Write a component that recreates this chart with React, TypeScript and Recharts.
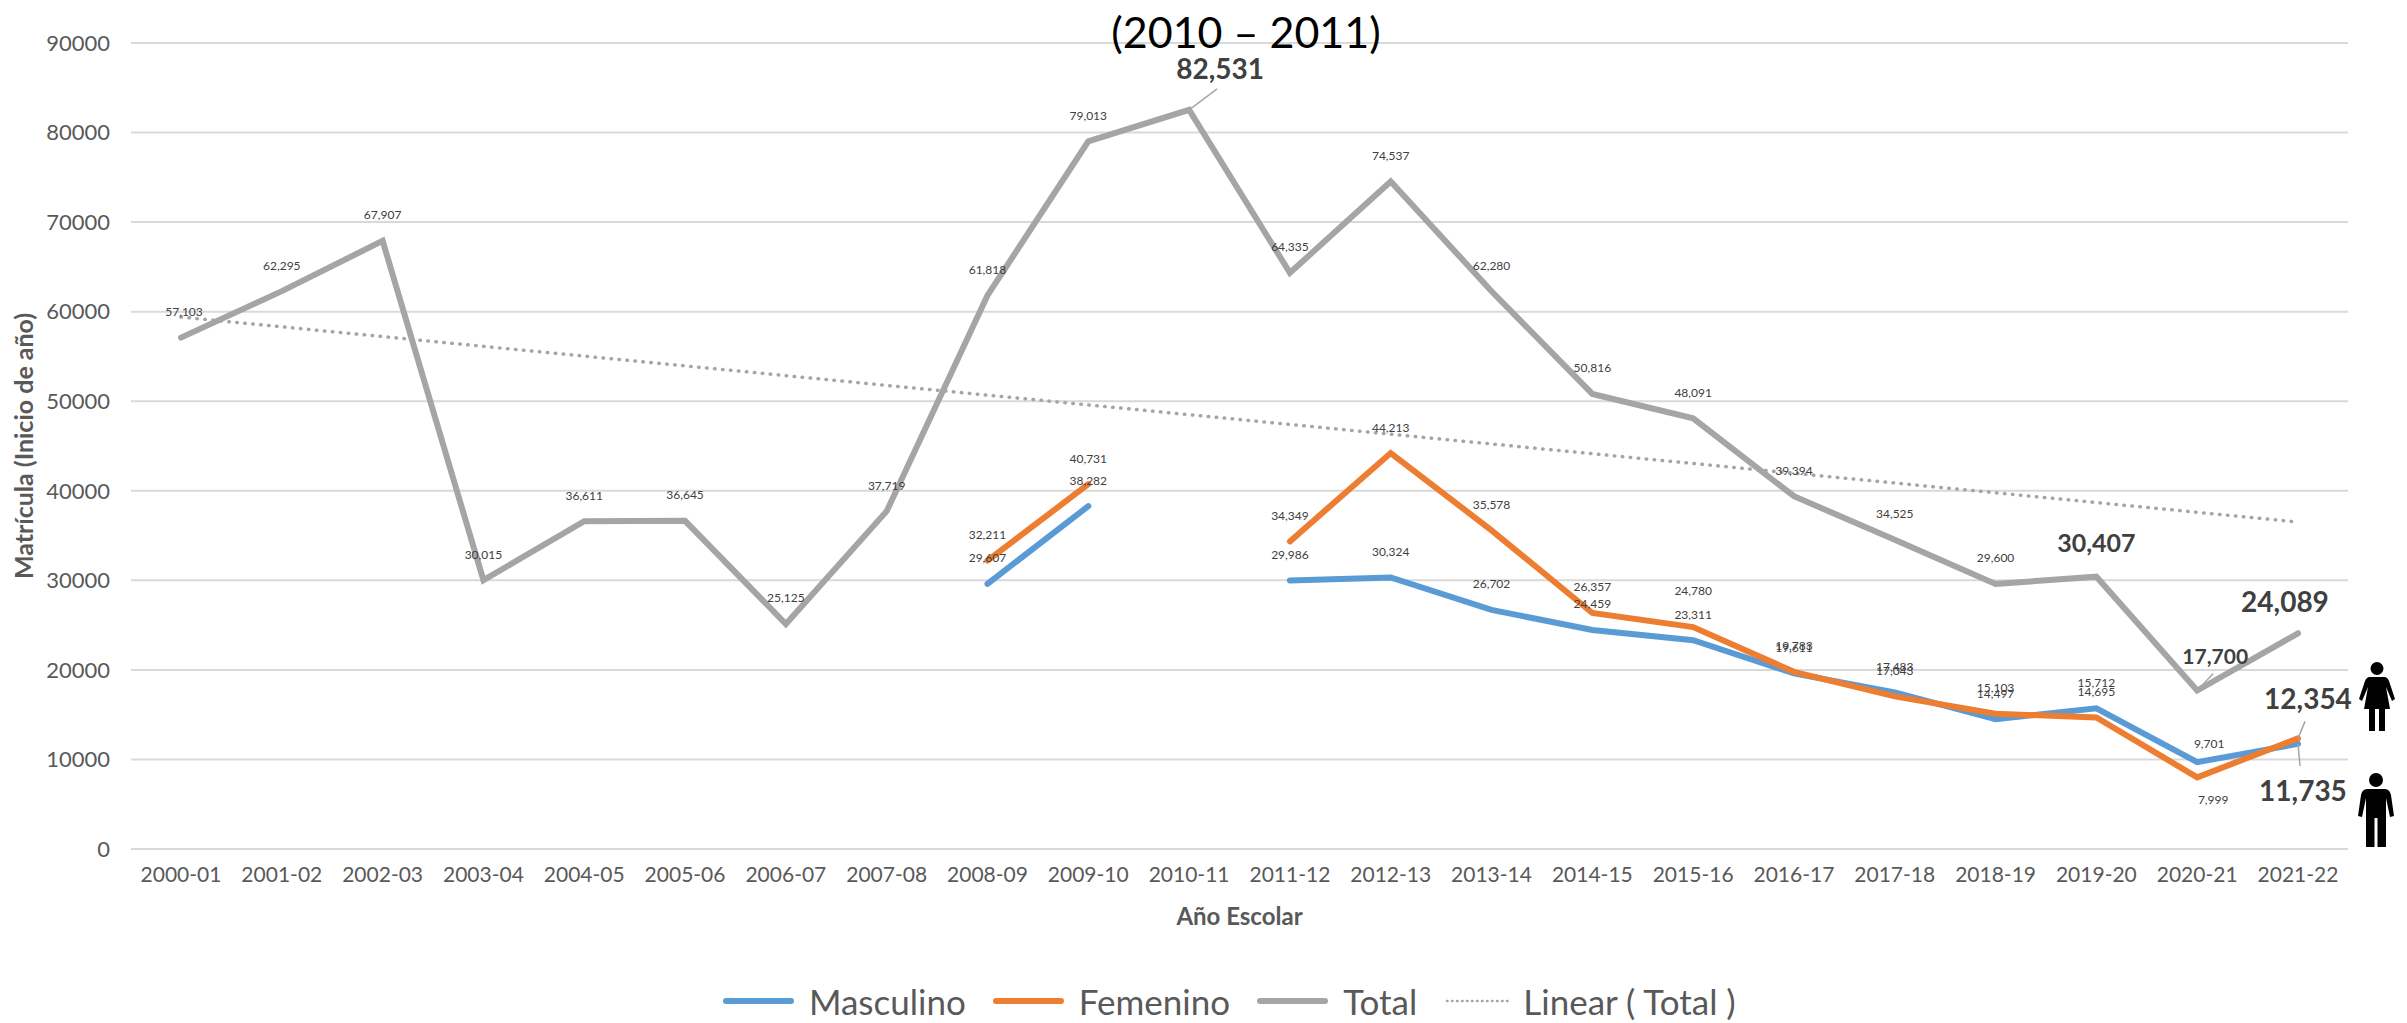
import React from 'react';
import { LineChart, Line, XAxis, YAxis, CartesianGrid, Legend } from 'recharts';

const years = [
  '2000-01', '2001-02', '2002-03', '2003-04', '2004-05', '2005-06', '2006-07', '2007-08',
  '2008-09', '2009-10', '2010-11', '2011-12', '2012-13', '2013-14', '2014-15', '2015-16',
  '2016-17', '2017-18', '2018-19', '2019-20', '2020-21', '2021-22',
];
const masculino = [
  null, null, null, null, null, null, null, null,
  29607, 38282, null, 29986, 30324, 26702, 24459, 23311,
  19611, 17483, 14497, 15712, 9701, 11735,
];
const femenino = [
  null, null, null, null, null, null, null, null,
  32211, 40731, null, 34349, 44213, 35578, 26357, 24780,
  19783, 17043, 15103, 14695, 7999, 12354,
];
const total = [
  57103, 62295, 67907, 30015, 36611, 36645, 25125, 37719,
  61818, 79013, 82531, 64335, 74537, 62280, 50816, 48091,
  39394, 34525, 29600, 30407, 17700, 24089,
];
const tendencia = [
  59400, 58310, 57220, 56130, 55040, 53950, 52860, 51770,
  50680, 49590, 48500, 47410, 46320, 45230, 44140, 43050,
  41960, 40870, 39780, 38690, 37600, 36510,
];
const yTicks = [0, 10000, 20000, 30000, 40000, 50000, 60000, 70000, 80000, 90000];

const data = years.map((year, i) => ({
  year,
  masculino: masculino[i],
  femenino: femenino[i],
  total: total[i],
  tendencia: tendencia[i],
}));

const FONT = 'Lato, sans-serif';
const TEXT = '#595959';
const DARK = '#404040';

type LabelOpt = { dx?: number; dy?: number; size?: number; lead?: [number, number] };

// labels that sit away from the default spot above the point
const totalLabels: Record<number, LabelOpt> = {
  0: { dx: 3 },
  10: { dx: 31, dy: -42, size: 28, lead: [28, -21] },
  19: { dy: -35, size: 25 },
  20: { dx: 18, dy: -35, size: 21, lead: [16, -17] },
  21: { dx: -13, dy: -32, size: 28 },
};
const femeninoLabels: Record<number, LabelOpt> = {
  15: { dy: -37 },
  20: { dx: 16, dy: 22 },
  21: { dx: 10, dy: -40, size: 28, lead: [7, -17] },
};
const masculinoLabels: Record<number, LabelOpt> = {
  20: { dx: 12, dy: -19 },
  21: { dx: 5, dy: 46, size: 28, lead: [2, 22] },
};

const valueLabel = (opts: Record<number, LabelOpt>) => (props: any) => {
  const { x, y, value, index } = props;
  if (value == null) return null;
  const o = opts[index] || {};
  const dx = o.dx ?? 0;
  const dy = o.dy ?? -26;
  return (
    <g key={index}>
      {o.lead && (
        <line x1={x} y1={y} x2={x + o.lead[0]} y2={y + o.lead[1]} stroke="#a6a6a6" strokeWidth={1.5} />
      )}
      <text
        x={x + dx}
        y={y + dy}
        textAnchor="middle"
        dominantBaseline="central"
        fontFamily={FONT}
        fontSize={o.size ?? 12}
        fontWeight={o.size ? 700 : 400}
        fill={DARK}
      >
        {Number(value).toLocaleString('en-US')}
      </text>
    </g>
  );
};

function LegendRow({ payload }: any) {
  return (
    <div style={{ display: 'flex', gap: 26, alignItems: 'center', fontFamily: FONT, fontSize: 35, color: TEXT, whiteSpace: 'nowrap' }}>
      {(payload || []).map((entry: any) => {
        const dotted = entry.dataKey === 'tendencia';
        return (
          <div key={entry.value} style={{ display: 'flex', alignItems: 'center', gap: dotted ? 7 : 14 }}>
            <svg width={73} height={8}>
              <line
                x1={4}
                y1={4}
                x2={69}
                y2={4}
                stroke={entry.color}
                strokeWidth={dotted ? 2.5 : 6}
                strokeLinecap="round"
                strokeDasharray={dotted ? '0.5 4.5' : undefined}
              />
            </svg>
            <span>{entry.value}</span>
          </div>
        );
      })}
    </div>
  );
}

function WomanIcon() {
  return (
    <svg width={36} height={70} viewBox="0 0 36 70" style={{ position: 'absolute', left: 2359, top: 662 }}>
      <circle cx={18} cy={6.5} r={6.5} fill="#000" />
      <path
        d="M11 15 H25 C28 15 29 17 30 19 L36 37 L33 39 L27 25 L31 47 H26 V69 H20 V47 H16 V69 H10 V47 H5 L9 25 L3 39 L0 37 L6 19 C7 17 8 15 11 15 Z"
        fill="#000"
      />
    </svg>
  );
}

function ManIcon() {
  return (
    <svg width={36} height={75} viewBox="0 0 36 75" style={{ position: 'absolute', left: 2358, top: 773 }}>
      <circle cx={18} cy={7} r={7} fill="#000" />
      <path
        d="M10 16 H26 C30 16 32 18 33 22 L36 43 L32 44 L28 25 V74 H19.5 V45 H16.5 V74 H8 V25 L4 44 L0 43 L3 22 C4 18 6 16 10 16 Z"
        fill="#000"
      />
    </svg>
  );
}

export default function App() {
  return (
    <div style={{ position: 'absolute', left: 0, top: 0, width: 2407, height: 1023, background: '#fff' }}>
      <LineChart
        width={2407}
        height={1023}
        data={data}
        margin={{ top: 43, right: 59, bottom: 94, left: 0 }}
      >
        <CartesianGrid vertical={false} stroke="#d9d9d9" strokeWidth={2} />
        <XAxis
          dataKey="year"
          padding={{ left: 50, right: 50 }}
          interval={0}
          height={80}
          axisLine={{ stroke: '#d9d9d9', strokeWidth: 2 }}
          tickLine={false}
          tick={{ fontSize: 21, fill: TEXT, fontFamily: FONT }}
          tickMargin={12}
          label={{
            value: 'Año Escolar',
            position: 'insideBottom',
            offset: 4,
            fontSize: 24,
            fontWeight: 700,
            fontFamily: FONT,
            fill: TEXT,
          }}
        />
        <YAxis
          width={131}
          domain={[0, 90000]}
          ticks={yTicks}
          interval={0}
          axisLine={false}
          tickLine={false}
          tickMargin={15}
          tick={{ fontSize: 22, fill: TEXT, fontFamily: FONT }}
          label={{
            value: 'Matrícula (Inicio de año)',
            angle: -90,
            position: 'insideLeft',
            offset: 24,
            style: { textAnchor: 'middle' },
            fontSize: 25,
            fontWeight: 700,
            fontFamily: FONT,
            fill: TEXT,
          }}
        />
        <Legend
          layout="horizontal"
          verticalAlign="middle"
          align="center"
          itemSorter={null}
          content={LegendRow}
          wrapperStyle={{ left: 722, top: 980, width: 1060 }}
        />
        <Line
          dataKey="masculino"
          name="Masculino"
          stroke="#5b9bd5"
          strokeWidth={6}
          strokeLinecap="round"
          dot={false}
          isAnimationActive={false}
          label={valueLabel(masculinoLabels)}
        />
        <Line
          dataKey="femenino"
          name="Femenino"
          stroke="#ed7d31"
          strokeWidth={6}
          strokeLinecap="round"
          dot={false}
          isAnimationActive={false}
          label={valueLabel(femeninoLabels)}
        />
        <Line
          dataKey="total"
          name="Total"
          stroke="#a5a5a5"
          strokeWidth={6}
          strokeLinecap="round"
          dot={false}
          isAnimationActive={false}
          label={valueLabel(totalLabels)}
        />
        <Line
          dataKey="tendencia"
          name="Linear ( Total )"
          stroke="#a5a5a5"
          strokeWidth={3.5}
          strokeLinecap="round"
          strokeDasharray="0.5 7.5"
          dot={false}
          isAnimationActive={false}
        />
        <text
          x={1246}
          y={31}
          textAnchor="middle"
          dominantBaseline="central"
          fontFamily={FONT}
          fontSize={43}
          fill="#000"
        >
          (2010 – 2011)
        </text>
      </LineChart>
      <WomanIcon />
      <ManIcon />
    </div>
  );
}
